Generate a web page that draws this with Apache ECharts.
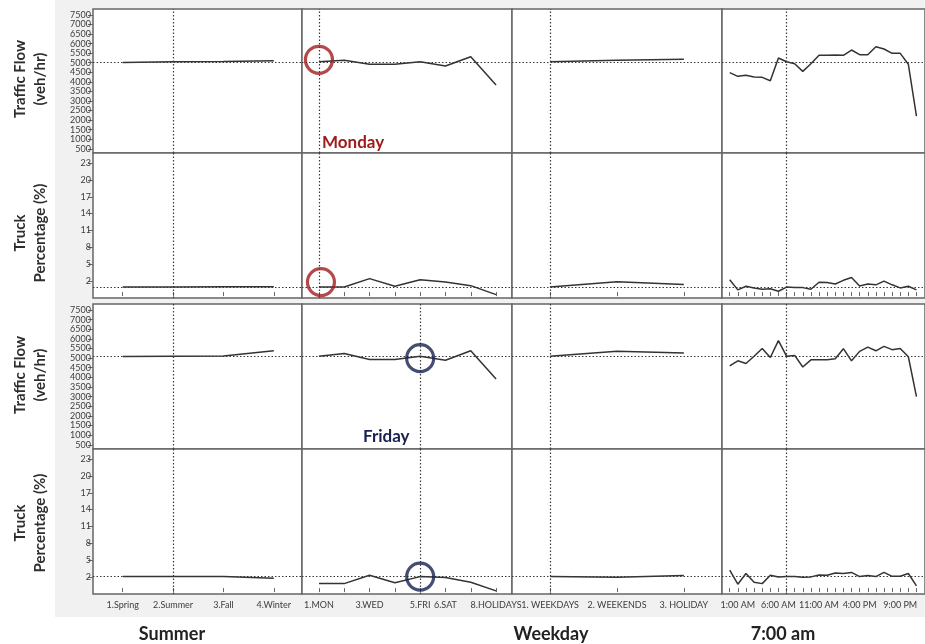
<!DOCTYPE html>
<html>
<head>
<meta charset="utf-8">
<script src="https://cdn.jsdelivr.net/npm/echarts@6/dist/echarts.min.js"></script>
<style>
  html, body { margin: 0; padding: 0; background: #fff; }
  #chart { width: 925px; height: 644px; }
</style>
</head>
<body>
<div id="chart"></div>
<script>
// ---- factor levels ----
const seasons = ['1.Spring', '2.Summer', '3.Fall', '4.Winter'];
const days = ['1.MON', '2.TUE', '3.WED', '4.THU', '5.FRI', '6.SAT', '7.SUN', '8.HOLIDAYS'];
const dayTypes = ['1. WEEKDAYS', '2. WEEKENDS', '3. HOLIDAY'];
const hours = ['12:00 AM', '1:00 AM', '2:00 AM', '3:00 AM', '4:00 AM', '5:00 AM', '6:00 AM', '7:00 AM',
  '8:00 AM', '9:00 AM', '10:00 AM', '11:00 AM', '12:00 PM', '1:00 PM', '2:00 PM', '3:00 PM',
  '4:00 PM', '5:00 PM', '6:00 PM', '7:00 PM', '8:00 PM', '9:00 PM', '10:00 PM', '11:00 PM'];

// which levels get a printed label
const seasonLabelIdx = [0, 1, 2, 3];
const dayLabelIdx = [0, 2, 4, 5, 7];
const dayTypeLabelIdx = [0, 1, 2];
const hourLabelIdx = [1, 6, 11, 16, 21];

// y tick values
const flowTicks = [500, 1000, 1500, 2000, 2500, 3000, 3500, 4000, 4500, 5000, 5500, 6000, 6500, 7000, 7500];
const truckTicks = [2, 5, 8, 11, 14, 17, 20, 23];

// ---- Monday profile (Summer, MON, WEEKDAYS, 7:00 AM) ----
const monSetting = [1, 0, 0, 7];
const monFlowNow = 5050;
const monTruckNow = 0.9;
const monFlowSeason = [5010, 5050, 5070, 5110];
const monFlowDay = [5050, 5125, 4920, 4920, 5050, 4830, 5310, 3830];
const monFlowDayType = [5050, 5130, 5180];
const monFlowHour = [4480, 4290, 4340, 4250, 4235, 4060, 5250, 5050, 4950, 4550, 4950, 5390,
  5390, 5400, 5390, 5665, 5420, 5420, 5840, 5720, 5490, 5490, 4920, 2210];
const monTruckSeason = [0.9, 0.9, 0.95, 0.95];
const monTruckDay = [0.9, 0.9, 2.4, 1.05, 2.2, 1.8, 1.15, -0.45];
const monTruckDayType = [0.9, 1.85, 1.35];
const monTruckHour = [2.2, 0.4, 1.05, 0.75, 0.5, 0.6, 0.15, 0.9, 0.8, 0.8, 0.5, 1.75,
  1.7, 1.45, 2.1, 2.6, 1.1, 1.45, 1.3, 1.95, 1.3, 0.75, 1.05, 0.4];

// ---- Friday profile (Summer, FRI, WEEKDAYS, 7:00 AM) ----
const friSetting = [1, 4, 0, 7];
const friFlowNow = 5100;
const friTruckNow = 2.05;
const friFlowSeason = [5090, 5100, 5110, 5380];
const friFlowDay = [5100, 5240, 4930, 4930, 5100, 4890, 5380, 3910];
const friFlowDayType = [5100, 5350, 5260];
const friFlowHour = [4600, 4860, 4720, 5100, 5500, 5030, 5910, 5100, 5140, 4540, 4910, 4910,
  4910, 4970, 5490, 4860, 5350, 5570, 5380, 5610, 5440, 5500, 5070, 3000];
const friTruckSeason = [2.05, 2.05, 2.05, 1.75];
const friTruckDay = [0.8, 0.8, 2.3, 0.95, 2.05, 1.9, 1.05, -0.5];
const friTruckDayType = [2.05, 1.95, 2.25];
const friTruckHour = [3.2, 0.7, 2.6, 1.05, 0.8, 2.3, 2.0, 2.05, 2.05, 1.95, 2.0, 2.35,
  2.3, 2.7, 2.6, 2.8, 2.05, 2.25, 2.05, 2.8, 2.1, 2.1, 2.6, 0.4];

// ---- layout ----
const FONT = 'Lato, "Open Sans", sans-serif';
const AXIS_COLOR = '#666';
const TEXT_COLOR = '#3c3c3c';
const MON_RED = '#a01b1b';
const FRI_NAVY = '#18214f';

const colLefts = [93, 302, 512, 722];
const colWidths = [209, 210, 210, 210];
const rowTops = [9, 153, 304, 449];
const rowHeights = [144, 145, 145, 145];

const columns = [
  { levels: seasons, labelIdx: seasonLabelIdx, base: 1, min: 0.41, max: 4.56 },
  { levels: days, labelIdx: dayLabelIdx, base: 1, min: 0.33, max: 8.63 },
  { levels: dayTypes, labelIdx: dayTypeLabelIdx, base: 1, min: 0.43, max: 3.57 },
  { levels: hours, labelIdx: hourLabelIdx, base: 0, min: -0.95, max: 24.05 }
];

const rows = [
  { kind: 'flow', setting: monSetting, now: monFlowNow,
    curves: [monFlowSeason, monFlowDay, monFlowDayType, monFlowHour],
    mark: { color: MON_RED, offset: [0, -2] }, xTicks: false },
  { kind: 'truck', setting: monSetting, now: monTruckNow,
    curves: [monTruckSeason, monTruckDay, monTruckDayType, monTruckHour],
    mark: { color: MON_RED, offset: [2, -5] }, xTicks: true },
  { kind: 'flow', setting: friSetting, now: friFlowNow,
    curves: [friFlowSeason, friFlowDay, friFlowDayType, friFlowHour],
    mark: { color: FRI_NAVY, offset: [0, 2] }, xTicks: false },
  { kind: 'truck', setting: friSetting, now: friTruckNow,
    curves: [friTruckSeason, friTruckDay, friTruckDayType, friTruckHour],
    mark: { color: FRI_NAVY, offset: [0, 0] }, xTicks: true, xLabels: true }
];

const grid = [], xAxis = [], yAxis = [], series = [];

rows.forEach((row, r) => {
  columns.forEach((col, c) => {
    const idx = grid.length;
    grid.push({
      left: colLefts[c], top: rowTops[r], width: colWidths[c], height: rowHeights[r],
      show: true, backgroundColor: '#fff', borderColor: AXIS_COLOR, borderWidth: 1.5,
      containLabel: false
    });

    const tickVals = col.levels.map((_, i) => i + col.base);
    xAxis.push({
      type: 'value', gridIndex: idx, min: col.min, max: col.max,
      splitLine: { show: false }, axisLine: { show: false },
      axisTick: {
        show: !!row.xTicks, length: 4, inside: false, customValues: tickVals,
        lineStyle: { color: AXIS_COLOR, width: 1 }
      },
      axisLabel: {
        show: !!row.xLabels, customValues: col.labelIdx.map(i => i + col.base),
        formatter: v => col.levels[Math.round(v - col.base)],
        hideOverlap: false, interval: 0,
        fontFamily: FONT, fontSize: 9, color: TEXT_COLOR, margin: 7
      }
    });

    const isFlow = row.kind === 'flow';
    const ticks = isFlow ? flowTicks : truckTicks;
    yAxis.push({
      type: 'value', gridIndex: idx,
      min: isFlow ? 280 : -1.05, max: isFlow ? 7810 : 24.8,
      splitLine: { show: false }, axisLine: { show: false },
      axisTick: {
        show: c === 0, length: 5, customValues: ticks,
        lineStyle: { color: AXIS_COLOR, width: 1 }
      },
      axisLabel: {
        show: c === 0, customValues: ticks, formatter: v => String(v),
        hideOverlap: false, interval: 0, lineHeight: 9,
        fontFamily: FONT, fontSize: 9, color: TEXT_COLOR, margin: 2
      }
    });

    // profile curve with the current-setting crosshair
    series.push({
      type: 'line', xAxisIndex: idx, yAxisIndex: idx,
      data: row.curves[c].map((v, i) => [i + col.base, v]),
      symbol: 'none', silent: true,
      lineStyle: { color: '#333', width: 1.5 },
      z: 3,
      markLine: {
        silent: true, symbol: 'none', animation: false,
        label: { show: false },
        lineStyle: { color: '#3a3a3a', type: [1.5, 2], width: 1.2 },
        data: [
          { yAxis: row.now },
          { xAxis: row.setting[c] + col.base }
        ]
      }
    });

    // highlighted day
    if (c === 1) {
      series.push({
        type: 'scatter', xAxisIndex: idx, yAxisIndex: idx, silent: true, z: 5,
        data: [[row.setting[c] + col.base, row.now]],
        symbol: 'circle', symbolSize: 27, symbolOffset: row.mark.offset,
        itemStyle: { color: 'rgba(0,0,0,0)', borderColor: row.mark.color, borderWidth: 3.2 }
      });
    }
  });
});

const titleStyle = (text, extra) => Object.assign({
  text, font: 'bold 15px ' + FONT, fill: '#2e2e2e', align: 'center', verticalAlign: 'middle',
  lineHeight: 20
}, extra || {});

const graphic = [
  { type: 'rect', z: -10, silent: true, shape: { x: 55, y: 0, width: 870, height: 617 },
    style: { fill: '#f1f1f1' } },
  { type: 'text', x: 30, y: 79, rotation: Math.PI / 2, silent: true,
    style: titleStyle('Traffic Flow\n(veh/hr)') },
  { type: 'text', x: 30, y: 233, rotation: Math.PI / 2, silent: true,
    style: titleStyle('Truck\nPercentage (%)') },
  { type: 'text', x: 30, y: 375, rotation: Math.PI / 2, silent: true,
    style: titleStyle('Traffic Flow\n(veh/hr)') },
  { type: 'text', x: 30, y: 523, rotation: Math.PI / 2, silent: true,
    style: titleStyle('Truck\nPercentage (%)') },
  { type: 'text', x: 172, y: 634, silent: true,
    style: titleStyle('Summer', { font: 'bold 18px ' + FONT, fill: '#222' }) },
  { type: 'text', x: 551, y: 634, silent: true,
    style: titleStyle('Weekday', { font: 'bold 18px ' + FONT, fill: '#222' }) },
  { type: 'text', x: 783, y: 634, silent: true,
    style: titleStyle('7:00 am', { font: 'bold 18px ' + FONT, fill: '#222' }) },
  { type: 'text', x: 322, y: 143, silent: true, z: 10,
    style: { text: 'Monday', font: 'bold 17px ' + FONT, fill: MON_RED, align: 'left', verticalAlign: 'middle' } },
  { type: 'text', x: 363, y: 437, silent: true, z: 10,
    style: { text: 'Friday', font: 'bold 17px ' + FONT, fill: FRI_NAVY, align: 'left', verticalAlign: 'middle' } }
];

const chart = echarts.init(document.getElementById('chart'));
chart.setOption({
  animation: false,
  backgroundColor: '#fff',
  grid, xAxis, yAxis, series, graphic
});
</script>
</body>
</html>
